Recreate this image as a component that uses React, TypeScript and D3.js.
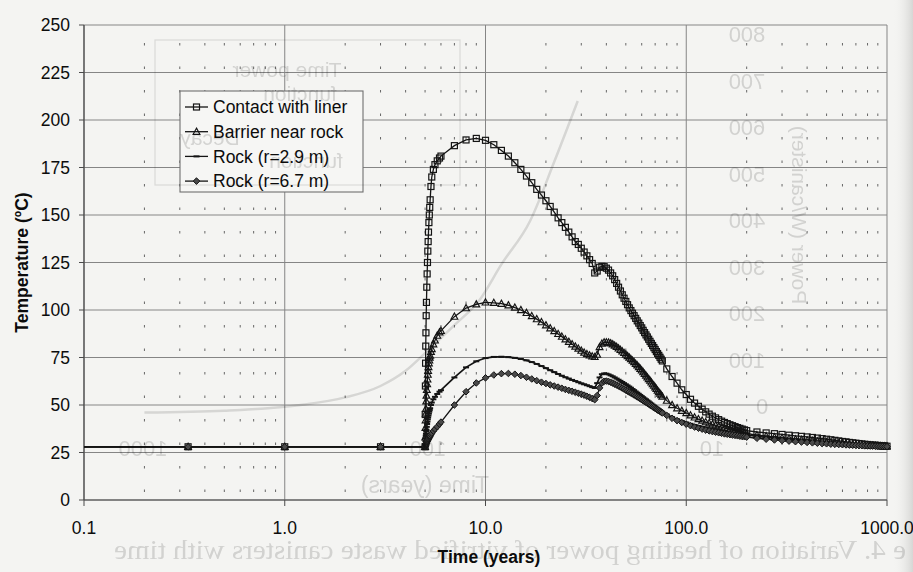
import React from 'react';
import * as d3 from 'd3';

// ---------- data ----------
const times = [
  0.1, 0.33, 1, 3,
  5, 5.01, 5.02, 5.03, 5.04, 5.05, 5.065, 5.08, 5.1, 5.12, 5.14, 5.16, 5.18, 5.2, 5.225, 5.25, 5.275, 5.3, 5.35, 5.4, 5.5, 5.6, 5.75, 5.9,
  6, 7, 8, 9, 10, 11, 12, 13, 14, 15, 16, 17, 18, 19, 20, 21, 22, 23, 24, 25, 26, 27, 28, 29, 30, 31, 32, 33, 34, 35, 36, 37, 38, 39, 40,
  41, 42, 43, 44, 45, 46, 47, 48, 49, 50, 51, 52, 53, 54, 55, 56, 57, 58, 59, 60, 61, 62, 63, 64, 65, 66, 67, 68, 69, 70, 71, 72, 73, 74, 75, 76,
  80, 85, 90, 95, 100, 105, 110, 115, 120, 125, 130, 135, 140, 145, 150, 155, 160, 165, 170, 175, 180, 185, 190, 195, 200,
  225, 250, 275, 300, 325, 350, 375, 400, 425, 450, 475, 500, 525, 550, 575, 600, 625, 650, 675, 700, 725, 750, 775, 800, 825, 850, 875, 900, 925, 950, 975, 1000,
];

const contactWithLiner = [
  28, 28, 28, 28,
  28, 45, 60, 72, 81, 88, 97, 104, 112, 119, 125, 131, 136, 141, 146, 150, 154, 158, 165, 170, 174, 176.5, 178.5, 180,
  181, 186.5, 189.5, 190.3, 189.3, 187, 184, 181, 177.5, 174, 170.5, 167, 163.5, 160.5, 157.5, 154.5, 151.5, 148.5, 146, 143.5, 141, 138.5, 136, 134.5, 132.5, 130.5, 128.5, 126.5, 124.5, 119.5, 120.5, 122.5, 123, 122.8, 122,
  121, 119.5, 118, 116, 114, 112, 110, 108, 106.2, 104.5, 102.8, 101.1, 99.7, 98.3, 97, 95.6, 94.3, 93.1, 91.8, 90.6, 89.3, 88.1, 86.9, 85.8, 84.6, 83.5, 82.4, 81.3, 80.2, 79.2, 78.1, 77.1, 76.1, 75.1, 74.1, 73.2,
  69, 65, 61.5, 58, 55.5, 53, 51, 49.3, 47.8, 46.4, 45.2, 44.1, 43.2, 42.3, 41.5, 40.8, 40.2, 39.6, 39.1, 38.6, 38.1, 37.7, 37.3, 36.9, 36.5,
  35.8, 35.3, 34.9, 34.5, 34.1, 33.8, 33.5, 33.2, 32.9, 32.6, 32.3, 32.0, 31.7, 31.4, 31.1, 30.8, 30.6, 30.3, 30.1, 29.9, 29.7, 29.5, 29.3, 29.2, 29.0, 28.9, 28.8, 28.7, 28.6, 28.5, 28.4, 28.3,
];

const barrierNearRock = [
  28, 28, 28, 28,
  28, 33, 38, 42, 45.5, 48, 52, 55, 58, 61, 63.5, 66, 68, 70, 72, 73.5, 75, 76, 78, 79.5, 82, 84, 86.5, 88.3,
  89, 96.5, 101, 103, 104, 103.8, 103.3, 102.5, 101.3, 100, 98.5, 96.8, 95.2, 93.6, 92, 90.4, 88.9, 87.4, 86, 84.6, 83.3, 82, 80.8, 79.7, 78.6, 77.6, 76.8, 76.1, 75.6, 75.3, 76.5, 80.5, 82.3, 83, 83,
  82.9, 82.5, 82, 81.3, 80.6, 79.8, 79, 78.2, 77.4, 76.6, 75.8, 75, 74.2, 73.4, 72.6, 71.7, 70.9, 70, 69.1, 68.2, 67.3, 66.4, 65.5, 64.6, 63.7, 62.8, 61.9, 61, 60.2, 59.3, 58.5, 57.6, 56.8, 56, 55.2, 54.5,
  52.3, 50, 48.3, 47, 45.8, 44.6, 43.5, 42.6, 41.8, 41, 40.4, 39.8, 39.3, 38.8, 38.3, 37.9, 37.5, 37.1, 36.7, 36.4, 36.1, 35.8, 35.5, 35.2, 35.0,
  34.2, 33.6, 33.1, 32.7, 32.3, 32.0, 31.7, 31.4, 31.1, 30.9, 30.7, 30.5, 30.3, 30.1, 29.9, 29.8, 29.6, 29.5, 29.3, 29.2, 29.1, 29.0, 28.9, 28.8, 28.7, 28.6, 28.5, 28.5, 28.4, 28.3, 28.3, 28.2,
];

const rock29 = [
  28, 28, 28, 28,
  28, 29.5, 31, 32.5, 33.8, 34.8, 36, 37, 38.5, 40, 41.3, 42.5, 43.5, 44.5, 45.5, 46.5, 47.4, 48.3, 50, 51.3, 53, 54.3, 55.8, 57,
  57.8, 64.5, 69.8, 73, 74.7, 75.3, 75.4, 75.2, 74.8, 74.2, 73.5, 72.6, 71.6, 70.5, 69.4, 68.3, 67.3, 66.3, 65.4, 64.6, 63.9, 63.2, 62.6, 62, 61.4, 60.9, 60.4, 59.9, 59.4, 59, 61.5, 64.5, 66.2, 66.6, 66.5,
  66.1, 65.6, 65.1, 64.5, 63.9, 63.3, 62.7, 62.1, 61.5, 60.9, 60.3, 59.7, 59.1, 58.4, 57.8, 57.1, 56.5, 55.9, 55.3, 54.7, 54.1, 53.5, 53, 52.4, 51.9, 51.3, 50.8, 50.2, 49.7, 49.2, 48.7, 48.2, 47.8, 47.3, 46.9, 46.4,
  45, 43.6, 42.5, 41.6, 40.8, 40.1, 39.5, 39, 38.5, 38.1, 37.7, 37.3, 37, 36.7, 36.4, 36.1, 35.9, 35.6, 35.4, 35.2, 35, 34.8, 34.6, 34.4, 34.2,
  33.5, 33, 32.5, 32.1, 31.8, 31.5, 31.2, 30.9, 30.7, 30.5, 30.3, 30.1, 29.9, 29.8, 29.6, 29.5, 29.4, 29.2, 29.1, 29, 28.9, 28.8, 28.7, 28.6, 28.6, 28.5, 28.4, 28.4, 28.3, 28.3, 28.2, 28.2,
];

const rock67 = [
  28, 28, 28, 28,
  28, 28.2, 28.5, 28.8, 29, 29.2, 29.5, 29.9, 30.3, 30.7, 31.1, 31.5, 31.9, 32.2, 32.6, 33, 33.4, 33.8, 34.5, 35.2, 36.3, 37.3, 38.6, 40,
  41, 50, 57, 61.6, 64.3, 65.8, 66.5, 66.6, 66.2, 65.5, 64.6, 63.7, 62.8, 62, 61.3, 60.6, 60, 59.4, 58.8, 58.2, 57.7, 57.2, 56.7, 56.2, 55.7, 55.2, 54.6, 54, 53.4, 52.8, 55, 59, 61.5, 62.5, 62.6,
  62.4, 62, 61.5, 61, 60.5, 60, 59.5, 58.9, 58.4, 57.8, 57.3, 56.8, 56.3, 55.8, 55.3, 54.8, 54.3, 53.8, 53.3, 52.8, 52.3, 51.8, 51.4, 50.9, 50.5, 50, 49.6, 49.1, 48.7, 48.2, 47.8, 47.4, 47, 46.6, 46.2, 45.8,
  44.5, 43, 41.8, 40.8, 39.9, 39.1, 38.4, 37.8, 37.3, 36.8, 36.4, 36, 35.7, 35.4, 35.1, 34.8, 34.6, 34.4, 34.2, 34, 33.8, 33.6, 33.4, 33.3, 33.1,
  32.5, 32, 31.6, 31.3, 31, 30.7, 30.5, 30.3, 30.1, 29.9, 29.7, 29.6, 29.4, 29.3, 29.2, 29.1, 29, 28.9, 28.8, 28.7, 28.6, 28.6, 28.5, 28.5, 28.4, 28.4, 28.3, 28.3, 28.2, 28.2, 28.1, 28.1,
];

const seriesNames = ['Contact with liner', 'Barrier near rock', 'Rock (r=2.9 m)', 'Rock (r=6.7 m)'];
const seriesMarkers = ['square', 'triangle', 'dash', 'diamond'];
const yTickValues = [0, 25, 50, 75, 100, 125, 150, 175, 200, 225, 250];
const xTickValues = [0.1, 1, 10, 100, 1000];
const xTickLabels = ['0.1', '1.0', '10.0', '100.0', '1000.0'];
const xTitle = 'Time (years)';
const yTitle = 'Temperature (ºC)';

// faint show-through from the reverse side of the scanned page (mirrored)
const ghostCaption = 'e 4. Variation of heating power of vitrified waste canisters with time';
const ghostPowerLabels = ['800', '700', '600', '500', '400', '300', '200', '100', '0'];
const ghostTimeLabels = ['1000', '100', '10'];
const ghostLegendLines = ['Time power', 'function', 'Decay', 'function'];
const ghostCurveTimes = [0.2, 0.5, 1.2, 2, 3, 4, 5.2, 7, 9.3, 12, 16.7, 22, 28.8];
const ghostCurveTemps = [46, 47, 50, 54, 60, 68, 79, 92, 105, 124, 147, 178, 210];

const FONT = '"Liberation Sans", Arial, Helvetica, sans-serif';
const INK = '#141414';
const GRID = '#858585';
const GHOST = '#dcdcdc';

function Marker({ kind, cx, cy }: { kind: string; cx: number; cy: number }) {
  if (kind === 'square') {
    return <rect x={cx - 3} y={cy - 3} width={6} height={6} fill="none" stroke={INK} strokeWidth={1.2} />;
  }
  if (kind === 'triangle') {
    return (
      <path
        d={`M${cx},${cy - 3.6}L${cx + 3.4},${cy + 2.6}L${cx - 3.4},${cy + 2.6}Z`}
        fill="none"
        stroke={INK}
        strokeWidth={1.15}
      />
    );
  }
  if (kind === 'dash') {
    return <line x1={cx - 3} x2={cx + 3} y1={cy} y2={cy} stroke={INK} strokeWidth={2} />;
  }
  return (
    <path
      d={`M${cx},${cy - 3.3}L${cx + 3.3},${cy}L${cx},${cy + 3.3}L${cx - 3.3},${cy}Z`}
      fill="#4a4a4a"
      stroke={INK}
      strokeWidth={1}
    />
  );
}

export default function App() {
  const W = 913;
  const H = 572;
  const x = d3.scaleLog().domain([0.1, 1000]).range([84, 887]);
  const y = d3.scaleLinear().domain([0, 250]).range([500, 25]);
  const [y0, y1] = y.range();
  const [x0, x1] = x.range();

  const seriesValues = [contactWithLiner, barrierNearRock, rock29, rock67];

  const line = d3
    .line<number>()
    .x((_, i) => x(times[i]))
    .y((d) => y(d));

  const ghostLine = d3
    .line<number>()
    .x((_, i) => x(ghostCurveTimes[i]))
    .y((d) => y(d))
    .curve(d3.curveMonotoneX);

  const minorValues: number[] = [];
  [0.1, 1, 10, 100].forEach((d) => {
    for (let k = 2; k <= 9; k++) minorValues.push(d * k);
  });

  const legendX = 180;
  const legendY = 91;
  const legendW = 183;
  const legendH = 101;
  const legendRow = 24.7;

  const ghostLegendPos = [
    [287, 77],
    [300, 101],
    [210, 145],
    [306, 168],
  ];

  return (
    <svg
      width={W}
      height={H}
      viewBox={`0 0 ${W} ${H}`}
      style={{ position: 'absolute', left: 0, top: 0, display: 'block' }}
      fontFamily={FONT}
    >
      <defs>
        <linearGradient id="edge" x1="0" x2="1" y1="0" y2="0">
          <stop offset="0" stopColor="#f4f4f2" stopOpacity="0" />
          <stop offset="1" stopColor="#d6d6d4" stopOpacity="1" />
        </linearGradient>
        <clipPath id="plot">
          <rect x={x0} y={y1 - 4} width={x1 - x0 + 4} height={y0 - y1 + 4} />
        </clipPath>
      </defs>
      <rect x={0} y={0} width={W} height={H} fill="#f4f4f2" />
      <rect x={893} y={0} width={20} height={H} fill="url(#edge)" />

      {/* minor vertical dotted grid */}
      {minorValues.map((v) => (
        <line
          key={'m' + v}
          x1={x(v)}
          x2={x(v)}
          y1={y1}
          y2={y0}
          stroke="#666"
          strokeWidth={1}
          strokeDasharray="2.5 21"
          strokeDashoffset={5.5}
        />
      ))}
      {/* major horizontal grid */}
      {yTickValues.map((v) => (
        <line key={'h' + v} x1={x0} x2={x1} y1={y(v)} y2={y(v)} stroke={GRID} strokeWidth={1.1} />
      ))}
      {/* major vertical grid */}
      {xTickValues.map((v) => (
        <line key={'v' + v} x1={x(v)} x2={x(v)} y1={y1} y2={y0} stroke={GRID} strokeWidth={1} />
      ))}

      {/* axes */}
      <line x1={x0} x2={x0} y1={y1} y2={y0} stroke="#4a4a4a" strokeWidth={1.2} />
      <line x1={x0} x2={x1} y1={y0} y2={y0} stroke="#4a4a4a" strokeWidth={1.2} />
      {yTickValues.map((v) => (
        <line key={'yt' + v} x1={x0 - 5} x2={x0} y1={y(v)} y2={y(v)} stroke="#4a4a4a" strokeWidth={1} />
      ))}
      {xTickValues.map((v) => (
        <line key={'xt' + v} x1={x(v)} x2={x(v)} y1={y0} y2={y0 + 6} stroke="#4a4a4a" strokeWidth={1} />
      ))}

      {/* tick labels */}
      {yTickValues.map((v) => (
        <text key={'yl' + v} x={70} y={y(v)} dy="0.36em" textAnchor="end" fontSize={17.5} fill="#0c0c0c">
          {v}
        </text>
      ))}
      {xTickValues.map((v, i) => (
        <text key={'xl' + v} x={x(v)} y={534} textAnchor="middle" fontSize={17.5} fill="#0c0c0c">
          {xTickLabels[i]}
        </text>
      ))}

      {/* axis titles */}
      <text x={489} y={563} textAnchor="middle" fontSize={17.5} fontWeight="bold" fill="#0c0c0c">
        {xTitle}
      </text>
      <text
        transform={`translate(28,${(y0 + y1) / 2}) rotate(-90)`}
        textAnchor="middle"
        fontSize={17.5}
        fontWeight="bold"
        fill="#0c0c0c"
      >
        {yTitle}
      </text>

      {/* series */}
      <g clipPath="url(#plot)">
        {seriesValues.map((vals, si) => (
          <path key={'l' + si} d={line(vals) || ''} fill="none" stroke={INK} strokeWidth={si === 2 ? 1.7 : 1.3} />
        ))}
        {seriesValues.map((vals, si) => (
          <g key={'p' + si}>
            {vals.map((v, i) =>
              times[i] > 0.1 ? <Marker key={i} kind={seriesMarkers[si]} cx={x(times[i])} cy={y(v)} /> : null
            )}
          </g>
        ))}
      </g>

      {/* legend */}
      <rect x={legendX} y={legendY} width={legendW} height={legendH} fill="#f6f6f4" stroke="#6f6f6f" strokeWidth={1.1} />
      {seriesNames.map((name, i) => {
        const cy = legendY + 16 + i * legendRow;
        return (
          <g key={'lg' + i}>
            <line x1={legendX + 5} x2={legendX + 28} y1={cy} y2={cy} stroke={INK} strokeWidth={1.3} />
            <Marker kind={seriesMarkers[i]} cx={legendX + 16.5} cy={cy} />
            <text x={legendX + 33} y={cy} dy="0.36em" fontSize={17.5} fill="#0c0c0c">
              {name}
            </text>
          </g>
        );
      })}

      {/* ghost show-through of the reverse page, on top with multiply */}
      <g fill={GHOST} style={{ mixBlendMode: 'multiply' }}>
        <path d={ghostLine(ghostCurveTemps) || ''} fill="none" stroke="#e0e0e0" strokeWidth={2.5} />
        <rect x={155} y={40} width={305} height={145} fill="none" stroke="#e4e4e4" strokeWidth={1.2} />
        {ghostPowerLabels.map((lab, i) => (
          <text
            key={'gp' + lab}
            transform={`translate(${lab === '0' ? 762 : 747},${42 + i * 46.5}) scale(-1,1)`}
            textAnchor="middle"
            fontSize={22}
          >
            {lab}
          </text>
        ))}
        <text transform="translate(792,215) rotate(90) scale(-1,1)" textAnchor="middle" fontSize={21}>
          Power (W/canister)
        </text>
        {ghostTimeLabels.map((lab, i) => (
          <text
            key={'gt' + lab}
            transform={`translate(${[143, 428, 712][i]},456) scale(-1,1)`}
            textAnchor="middle"
            fontSize={22}
          >
            {lab}
          </text>
        ))}
        <text transform="translate(425,493) scale(-1,1)" textAnchor="middle" fontSize={23}>
          Time (years)
        </text>
        {ghostLegendLines.map((lab, i) => (
          <text
            key={'gl' + i}
            transform={`translate(${ghostLegendPos[i][0]},${ghostLegendPos[i][1]}) scale(-1,1)`}
            textAnchor="middle"
            fontSize={21}
          >
            {lab}
          </text>
        ))}
        <text
          transform="translate(906,559) scale(-1,1)"
          textAnchor="start"
          fontSize={28}
          textLength={792}
          lengthAdjust="spacingAndGlyphs"
          fontFamily='"Liberation Serif", "Times New Roman", serif'
        >
          {ghostCaption}
        </text>
      </g>
    </svg>
  );
}
